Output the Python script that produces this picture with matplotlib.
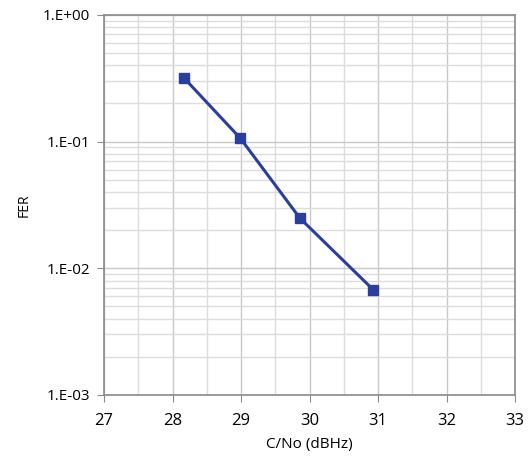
import math
import matplotlib.pyplot as plt
from matplotlib.ticker import FixedLocator, LogLocator, NullFormatter, FuncFormatter

cn0 = [28.17, 28.99, 29.86, 30.93]
fer = [0.316, 0.106, 0.0248, 0.00676]

plt.rcParams['font.family'] = ['Open Sans', 'DejaVu Sans']

fig = plt.figure(figsize=(5.31, 4.63), dpi=100)
ax = fig.add_axes([0.196, 0.147, 0.774, 0.821])

ax.plot(cn0, fer, color='#2a3f9d', lw=2.2, marker='s', ms=6.5, zorder=3)

ax.set_yscale('log')
ax.set_xlim(27, 33)
ax.set_ylim(1e-3, 1)

ax.xaxis.set_major_locator(FixedLocator(range(27, 34)))
ax.xaxis.set_minor_locator(FixedLocator([27.5 + i for i in range(6)]))
ax.yaxis.set_major_locator(LogLocator(base=10, numticks=10))
ax.yaxis.set_minor_locator(LogLocator(base=10, subs=range(2, 10), numticks=10))
ax.yaxis.set_minor_formatter(NullFormatter())
ax.yaxis.set_major_formatter(FuncFormatter(lambda v, p: '1.E%+03d' % round(math.log10(v))))

ax.grid(which='major', color='#c8c8c8', lw=1)
ax.grid(which='minor', color='#dcdcdc', lw=1)
ax.set_axisbelow(True)

for s in ax.spines.values():
    s.set_color('#8a8a8a')
    s.set_linewidth(1.2)

ax.tick_params(which='major', length=5, color='#8a8a8a', labelsize=12, pad=8)
ax.tick_params(axis='y', which='major', labelsize=11, pad=5)
ax.tick_params(which='minor', length=0)

ax.set_xlabel('C/No (dBHz)', fontsize=11, labelpad=6)
ax.set_ylabel('FER', fontsize=10, labelpad=8)

fig.savefig('out.png', dpi=100)
